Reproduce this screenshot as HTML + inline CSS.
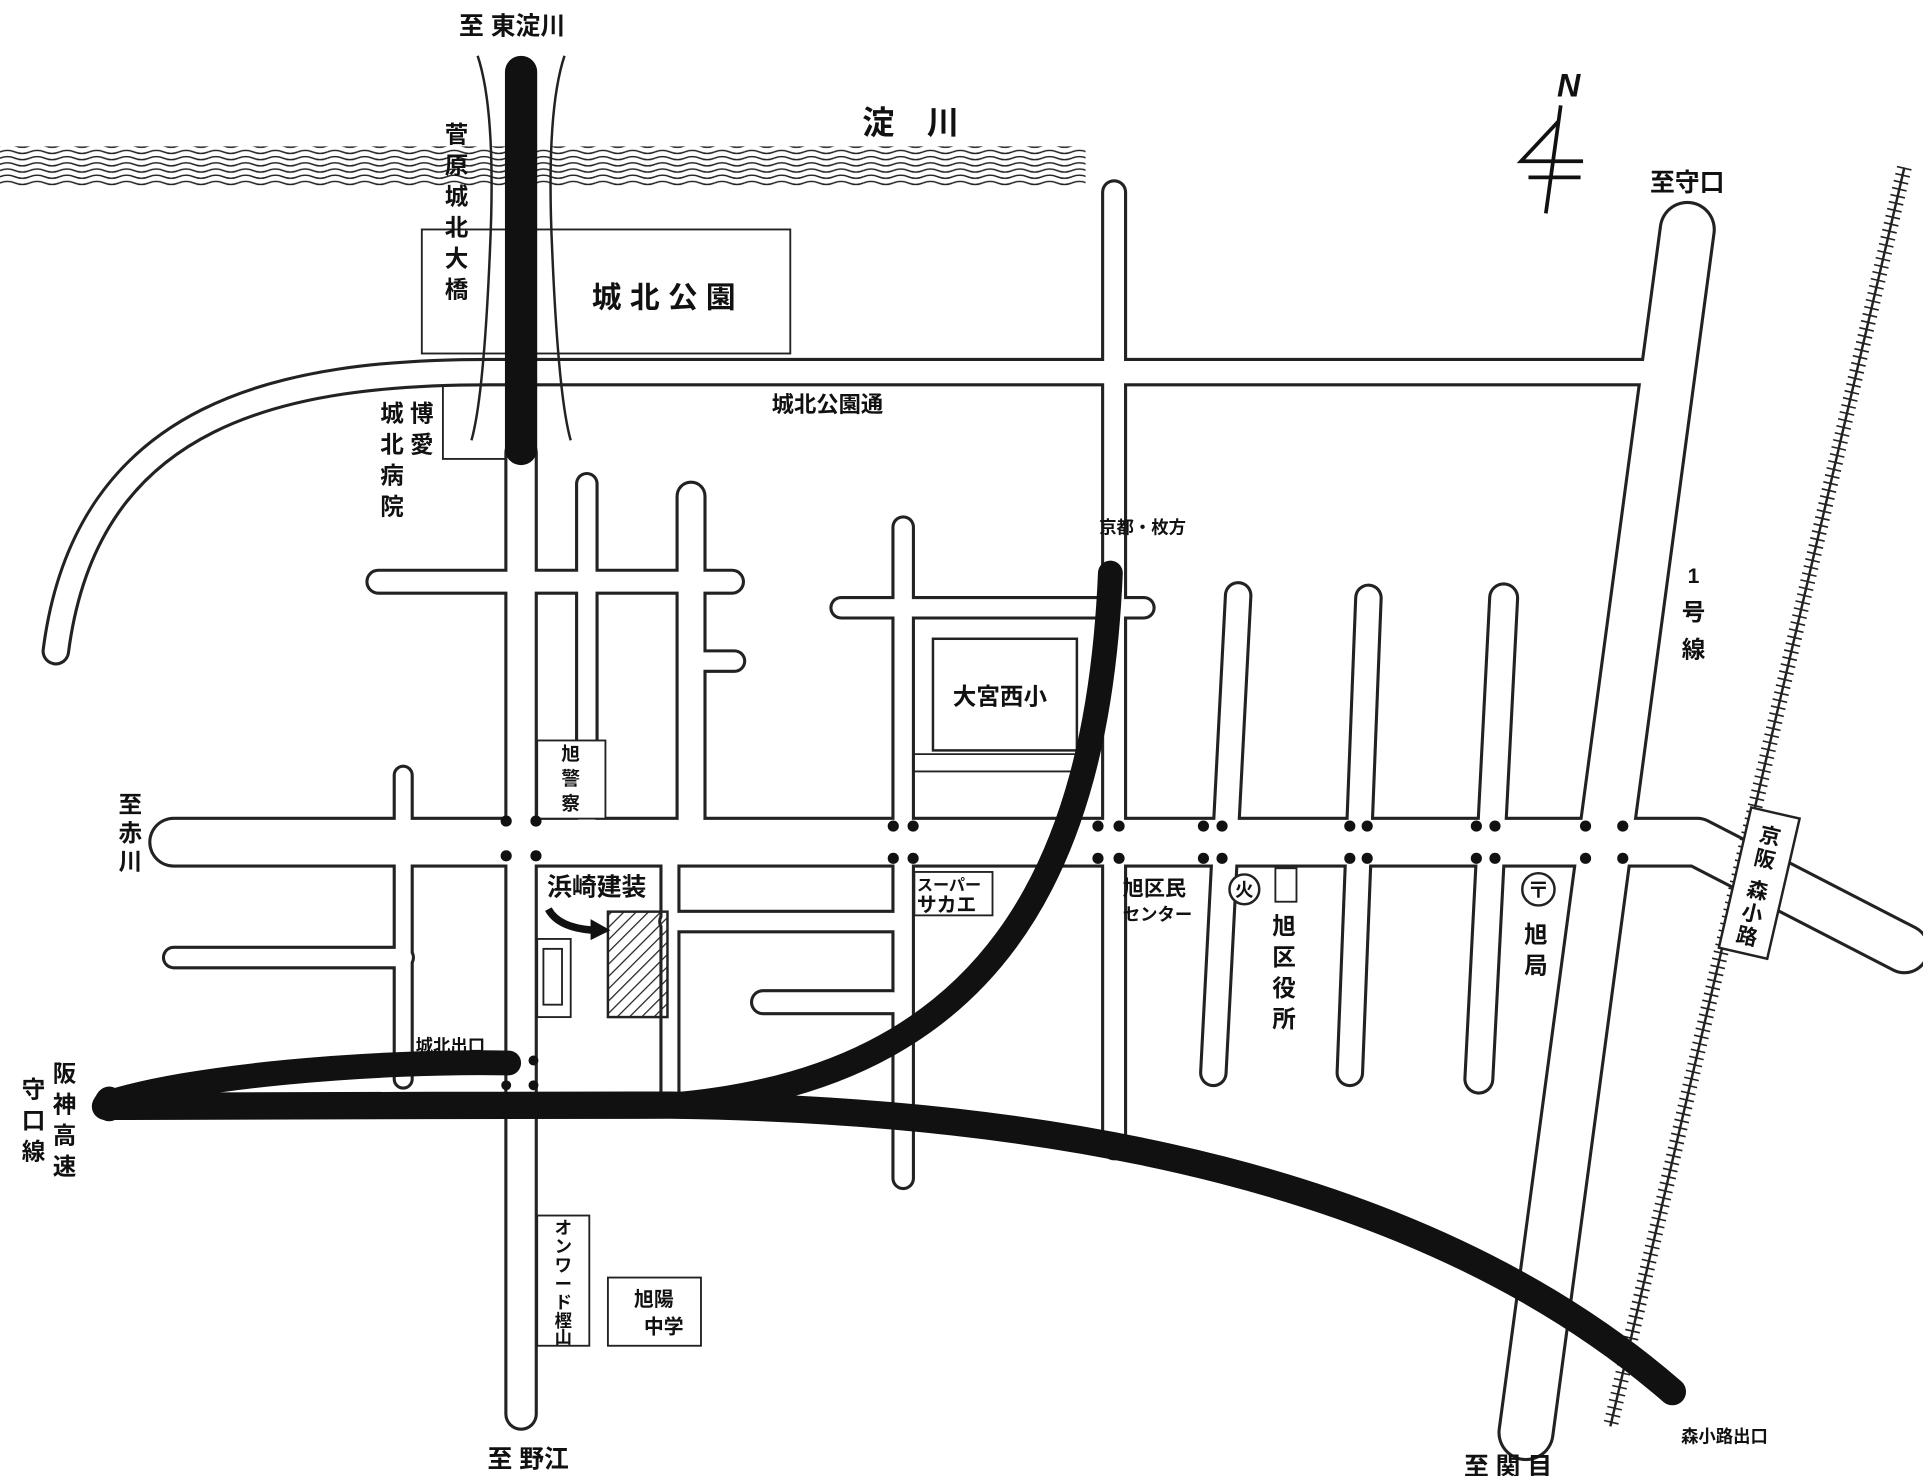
<!DOCTYPE html>
<html><head><meta charset="utf-8"><style>
html,body{margin:0;padding:0;background:#fff;}
svg{display:block;}
text{font-family:"Liberation Sans","Noto Sans CJK JP",sans-serif;fill:#111;font-weight:bold;}
</style></head><body>
<svg width="1923" height="1476" viewBox="0 0 1550 1190" preserveAspectRatio="none" xmlns="http://www.w3.org/2000/svg">
<defs>
<pattern id="wave" width="24" height="5" patternUnits="userSpaceOnUse">
<path d="M0 2.5 Q6 0 12 2.5 T24 2.5" fill="none" stroke="#222" stroke-width="1.2"/>
</pattern>
<pattern id="hatch" width="7" height="7" patternUnits="userSpaceOnUse" patternTransform="rotate(45)">
<line x1="0" y1="0" x2="0" y2="7" stroke="#222" stroke-width="2"/>
</pattern>
</defs>
<rect width="1550" height="1190" fill="#fff"/>
<rect x="0" y="118" width="875" height="32" fill="url(#wave)"/>
<rect x="340" y="185" width="297" height="100" fill="none" stroke="#222" stroke-width="1.5"/>
<rect x="357" y="300" width="53" height="70" fill="#fff" stroke="#222" stroke-width="1.5"/>
<g fill="none" stroke="#222" stroke-linecap="round" stroke-linejoin="round">
<path d="M420 365 V1140" stroke-width="27"/>
<path d="M1340 300 H395 C230 300 70 330 45 525" stroke-width="23"/>
<path d="M898 155 V925" stroke-width="21"/>
<path d="M473 390 V660" stroke-width="19"/>
<path d="M557 400 V660" stroke-width="25"/>
<path d="M305 469 H590" stroke-width="21"/>
<path d="M560 533 H592" stroke-width="19"/>
<path d="M728 425 V950" stroke-width="19"/>
<path d="M678 490 H922" stroke-width="19"/>
<path d="M140 679 H1368 L1535 765" stroke-width="41"/>
<path d="M325 625 V870" stroke-width="17"/>
<path d="M140 772 H325" stroke-width="19"/>
<path d="M540 698 V885" stroke-width="17"/>
<path d="M540 743 H720" stroke-width="19"/>
<path d="M615 808 H720" stroke-width="21"/>
<path d="M998 480 L978 865" stroke-width="23"/>
<path d="M1103 482 L1088 865" stroke-width="23"/>
<path d="M1212 482 L1192 870" stroke-width="25"/>
<path d="M1360 185 L1230 1155" stroke-width="46"/>
</g>
<g fill="none" stroke="#fff" stroke-linecap="round" stroke-linejoin="round">
<path d="M420 365 V1140" stroke-width="22"/>
<path d="M1340 300 H395 C230 300 70 330 45 525" stroke-width="18"/>
<path d="M898 155 V925" stroke-width="16"/>
<path d="M473 390 V660" stroke-width="14"/>
<path d="M557 400 V660" stroke-width="20"/>
<path d="M305 469 H590" stroke-width="16"/>
<path d="M560 533 H592" stroke-width="14"/>
<path d="M728 425 V950" stroke-width="14"/>
<path d="M678 490 H922" stroke-width="14"/>
<path d="M140 679 H1368 L1535 765" stroke-width="36"/>
<path d="M325 625 V870" stroke-width="12"/>
<path d="M140 772 H325" stroke-width="14"/>
<path d="M540 698 V885" stroke-width="12"/>
<path d="M540 743 H720" stroke-width="14"/>
<path d="M615 808 H720" stroke-width="16"/>
<path d="M998 480 L978 865" stroke-width="18"/>
<path d="M1103 482 L1088 865" stroke-width="18"/>
<path d="M1212 482 L1192 870" stroke-width="20"/>
<path d="M1360 185 L1230 1155" stroke-width="41"/>
</g>
<rect x="752" y="515" width="116" height="90" fill="none" stroke="#222" stroke-width="2"/>
<path d="M737 608 H870 M737 622 H870" stroke="#222" stroke-width="1.5"/>
<rect x="433" y="597" width="55" height="63" fill="#fff" stroke="#222" stroke-width="1.5"/>
<rect x="737" y="703" width="63" height="35" fill="#fff" stroke="#222" stroke-width="1.5"/>
<rect x="1028" y="700" width="17" height="27" fill="#fff" stroke="#222" stroke-width="1.5"/>
<rect x="433" y="757" width="27" height="63" fill="#fff" stroke="#222" stroke-width="1.5"/>
<rect x="438" y="765" width="15" height="45" fill="#fff" stroke="#222" stroke-width="1.5"/>
<rect x="490" y="735" width="48" height="85" fill="url(#hatch)" stroke="#222" stroke-width="2"/>
<rect x="433" y="980" width="42" height="105" fill="#fff" stroke="#222" stroke-width="1.5"/>
<rect x="490" y="1030" width="75" height="55" fill="#fff" stroke="#222" stroke-width="1.5"/>
<path d="M442 733 Q450 748 478 750" fill="none" stroke="#111" stroke-width="6"/>
<path d="M476 741 L492 750 L476 758 Z" fill="#111"/>
<g fill="#111">
<circle cx="408" cy="662" r="4.5"/><circle cx="432" cy="662" r="4.5"/><circle cx="408" cy="690" r="4.5"/><circle cx="432" cy="690" r="4.5"/>
<circle cx="720" cy="666" r="4.5"/><circle cx="736" cy="666" r="4.5"/><circle cx="720" cy="692" r="4.5"/><circle cx="736" cy="692" r="4.5"/>
<circle cx="885" cy="666" r="4.5"/><circle cx="902" cy="666" r="4.5"/><circle cx="885" cy="692" r="4.5"/><circle cx="902" cy="692" r="4.5"/>
<circle cx="970" cy="666" r="4.5"/><circle cx="985" cy="666" r="4.5"/><circle cx="970" cy="692" r="4.5"/><circle cx="985" cy="692" r="4.5"/>
<circle cx="1088" cy="666" r="4.5"/><circle cx="1102" cy="666" r="4.5"/><circle cx="1088" cy="692" r="4.5"/><circle cx="1102" cy="692" r="4.5"/>
<circle cx="1190" cy="666" r="4.5"/><circle cx="1205" cy="666" r="4.5"/><circle cx="1190" cy="692" r="4.5"/><circle cx="1205" cy="692" r="4.5"/>
<circle cx="1278" cy="666" r="4.5"/><circle cx="1308" cy="666" r="4.5"/><circle cx="1278" cy="692" r="4.5"/><circle cx="1308" cy="692" r="4.5"/>
<circle cx="408" cy="855" r="4"/><circle cx="430" cy="855" r="4"/><circle cx="408" cy="875" r="4"/><circle cx="430" cy="875" r="4"/>
</g>
<path d="M385 45 Q400 90 395 200 Q390 320 380 355" fill="none" stroke="#222" stroke-width="2"/>
<path d="M455 45 Q440 90 445 200 Q450 320 460 355" fill="none" stroke="#222" stroke-width="2"/>
<path d="M420 58 V362" stroke="#111" stroke-width="26" stroke-linecap="round"/>
<path d="M1535 135 L1298 1150" stroke="#222" stroke-width="2"/>
<path d="M1535 135 L1298 1150" stroke="#222" stroke-width="12" stroke-dasharray="1.3 4.5"/>
<g transform="translate(1418 712) rotate(13)">
<rect x="-20" y="-58" width="40" height="116" fill="#fff" stroke="#222" stroke-width="2"/>
<text x="0" y="-33" font-size="17" text-anchor="middle">京</text>
<text x="0" y="-14" font-size="17" text-anchor="middle">阪</text>
<text x="0" y="12" font-size="17" text-anchor="middle">森</text>
<text x="0" y="31" font-size="17" text-anchor="middle">小</text>
<text x="0" y="50" font-size="17" text-anchor="middle">路</text>
</g>
<g fill="none" stroke="#111" stroke-linecap="round">
<path d="M85 892 C200 893 400 890 540 891 C850 895 1150 950 1348 1122" stroke-width="22"/>
<path d="M85 890 C150 868 300 855 410 857" stroke-width="20"/>
<path d="M540 891 C800 870 885 700 895 462" stroke-width="20"/>
</g>
<ellipse cx="88" cy="890" rx="12" ry="14" fill="#111"/>
<g stroke="#111" stroke-width="3" fill="none">
<path d="M1258 85 L1246 172"/>
<path d="M1256 98 L1226 130 H1276"/>
<path d="M1232 143 H1274"/>
</g>
<text x="1255" y="78" font-size="26" font-style="italic">N</text>
<circle cx="1003" cy="717" r="12" fill="#fff" stroke="#222" stroke-width="2"/>
<text x="1003" y="723" font-size="15" text-anchor="middle">火</text>
<circle cx="1240" cy="717" r="13" fill="#fff" stroke="#222" stroke-width="2"/>
<text x="1240" y="724" font-size="18" text-anchor="middle">〒</text>
<g font-size="20">
<text x="370" y="28">至 東淀川</text>
<text x="695" y="108" font-size="26">淀　川</text>
<text x="477" y="248" font-size="24">城 北 公 園</text>
<text x="622" y="332" font-size="18">城北公園通</text>
<text x="1330" y="154">至守口</text>
<text x="768" y="568" font-size="19">大宮西小</text>
<text x="886" y="430" font-size="14">京都・枚方</text>
<text x="441" y="722" font-size="20">浜崎建装</text>
<text x="739" y="718" font-size="13">スーパー</text>
<text x="739" y="735" font-size="16">サカエ</text>
<text x="905" y="722" font-size="17">旭区民</text>
<text x="905" y="742" font-size="14">センター</text>
<text x="335" y="848" font-size="14">城北出口</text>
<text x="1355" y="1163" font-size="14">森小路出口</text>
<text x="393" y="1183">至 野江</text>
<text x="1180" y="1189">至 関 目</text>
</g>
<g font-size="19" text-anchor="middle">
<text x="368" y="115">菅</text><text x="368" y="140">原</text><text x="368" y="165">城</text><text x="368" y="190">北</text><text x="368" y="215">大</text><text x="368" y="240">橋</text>
<text x="340" y="340">博</text><text x="340" y="365">愛</text>
<text x="316" y="340">城</text><text x="316" y="365">北</text><text x="316" y="390">病</text><text x="316" y="415">院</text>
<text x="105" y="655">至</text><text x="105" y="678">赤</text><text x="105" y="701">川</text>
<text x="460" y="613" font-size="15">旭</text><text x="460" y="633" font-size="15">警</text><text x="460" y="653" font-size="15">察</text>
<text x="1035" y="753">旭</text><text x="1035" y="778">区</text><text x="1035" y="803">役</text><text x="1035" y="828">所</text>
<text x="1238" y="760">旭</text><text x="1238" y="785">局</text>
<text x="1365" y="470" font-size="17">1</text><text x="1365" y="500">号</text><text x="1365" y="530">線</text>
<text x="52" y="872">阪</text><text x="52" y="897">神</text><text x="52" y="922">高</text><text x="52" y="947">速</text>
<text x="27" y="885">守</text><text x="27" y="910">口</text><text x="27" y="935">線</text>
<text x="527" y="1053" font-size="16">旭陽</text><text x="535" y="1075" font-size="16">中学</text>
</g>
<g font-size="14" text-anchor="middle">
<text x="454" y="995">オ</text><text x="454" y="1010">ン</text><text x="454" y="1025">ワ</text><text x="454" y="1040">ー</text><text x="454" y="1055">ド</text><text x="454" y="1070">樫</text><text x="454" y="1083">山</text>
</g>
</svg>
</body></html>
